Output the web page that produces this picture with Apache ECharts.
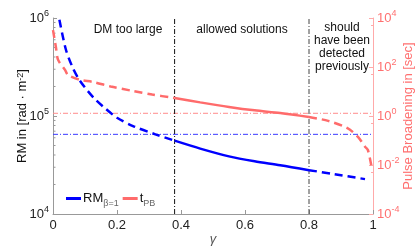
<!DOCTYPE html>
<html><head><meta charset="utf-8">
<script src="https://cdn.jsdelivr.net/npm/echarts@6/dist/echarts.min.js"></script>
<style>html,body{margin:0;padding:0;background:#fff}#c{width:415px;height:246px}</style>
</head><body><div id="c"></div>
<script>
// ---- data ----
const xTicks = [0, 0.2, 0.4, 0.6, 0.8, 1];
const leftTicks = [1e4, 1e5, 1e6];
const rightTicks = [1e-4, 1e-2, 1e0, 1e2, 1e4];
const leftMinor = [2e4,3e4,4e4,5e4,6e4,7e4,8e4,9e4,2e5,3e5,4e5,5e5,6e5,7e5,8e5,9e5];

// RM (beta=1), left axis
const rmGammaA = [0.02, 0.04, 0.06, 0.08, 0.10, 0.13, 0.16, 0.20, 0.25, 0.32, 0.38];
const rmValA   = [9.6e5, 4.8e5, 3.2e5, 2.4e5, 1.95e5, 1.5e5, 1.22e5, 9.6e4, 7.9e4, 6.5e4, 5.6e4];
const rmGammaB = [0.38, 0.46, 0.55, 0.63, 0.71, 0.80];
const rmValB   = [5.6e4, 4.65e4, 3.87e4, 3.45e4, 3.15e4, 2.8e4];
const rmGammaC = [0.80, 0.88, 0.975];
const rmValC   = [2.8e4, 2.55e4, 2.27e4];

// t_PB, right axis (sec)
const tGammaA = [0, 0.009, 0.016, 0.0375, 0.047, 0.084, 0.125, 0.18, 0.25, 0.31, 0.38];
const tValA   = [3200, 660, 195, 76, 47, 30, 24.5, 16, 10.5, 7.5, 5.4];
const tGammaB = [0.38, 0.46, 0.55, 0.63, 0.71, 0.80];
const tValB   = [5.4, 3.6, 2.35, 1.7, 1.32, 0.91];
const tGammaC = [0.80, 0.86, 0.92, 0.953, 0.975, 0.984, 0.995];
const tValC   = [0.91, 0.63, 0.32, 0.14, 0.056, 0.041, 0.009];

const vLines = [0.38, 0.8];
const rmLimit = 6.5e4;
const tLimit = 1.29;

const regionTexts = ['DM too large', 'allowed solutions', 'should\nhave been\ndetected\npreviously'];

// ---- build ----
const pairs = (xs, ys) => xs.map((x, i) => [x, ys[i]]);
const BLUE = '#0000ff', RED = '#ff6b6b', RED_AX = '#ffaaaa', RED_TXT = '#ff7070';
const FONT = 'Liberation Sans';

function supLabel(v) {
  const e = Math.round(Math.log10(v));
  return '{b|10}{s|' + e + '}';
}
const richLeft = {
  b: {fontSize: 13, fontFamily: FONT, color: '#222', lineHeight: 18},
  s: {fontSize: 9, fontFamily: FONT, color: '#222', verticalAlign: 'top', lineHeight: 9}
};
const richRight = {
  b: {fontSize: 13, fontFamily: FONT, color: RED_TXT, lineHeight: 18},
  s: {fontSize: 9, fontFamily: FONT, color: RED_TXT, verticalAlign: 'top', lineHeight: 9}
};

const chart = echarts.init(document.getElementById('c'), null, {renderer: 'canvas'});
const lineSeries = (name, data, color, dashed, yIdx, width, z) => ({
  name, type: 'line', data, yAxisIndex: yIdx, xAxisIndex: 0,
  showSymbol: false, symbol: 'none', smooth: dashed === null ? false : 0.3, clip: true, silent: true,
  itemStyle: {color},
  lineStyle: {color, width: width || 2.5, type: dashed === null ? [5, 2, 1, 2] : (dashed ? [8, 5] : 'solid')},
  z: z || 5
});

const option = {
  animation: false,
  textStyle: {fontFamily: FONT},
  grid: {left: 53, right: 42, top: 18, bottom: 32, containLabel: false, outerBoundsMode: 'none'},
  legend: {
    data: ['RM', 'tPB'], left: 66, top: 192, padding: 0, icon: 'rect', itemWidth: 15, itemHeight: 3,
    itemGap: 4, selectedMode: false,
    formatter: n => n === 'RM' ? '{b|RM}{s|β=1}' : '{b|t}{s|PB}',
    textStyle: {
      padding: [0, 0, 0, -3],
      rich: {
        b: {fontSize: 13, fontFamily: FONT, color: '#111', lineHeight: 20},
        s: {fontSize: 9, fontFamily: FONT, color: '#666', verticalAlign: 'bottom', lineHeight: 9}
      }
    }
  },
  xAxis: {
    type: 'value', min: 0, max: 1, interval: 0.2,
    name: 'γ', nameLocation: 'middle', nameGap: 19, nameMoveOverlap: false,
    nameTextStyle: {fontSize: 13, fontStyle: 'italic', fontFamily: FONT, color: '#555'},
    axisLine: {lineStyle: {color: '#999', width: 1}},
    axisTick: {inside: true, length: 4, lineStyle: {color: '#999'}},
    axisLabel: {fontSize: 13, color: '#222', margin: 5, fontFamily: FONT,
      formatter: v => xTicks.includes(Math.round(v * 10) / 10) ? String(Math.round(v * 10) / 10) : ''},
    splitLine: {show: false}
  },
  yAxis: [
    {
      type: 'log', logBase: 10, min: leftTicks[0], max: leftTicks[leftTicks.length - 1], interval: 1,
      position: 'left',
      name: 'RM in [rad · m{s|-2}]', nameLocation: 'middle', nameGap: 24, nameRotate: 90, nameMoveOverlap: false,
      nameTextStyle: {fontSize: 13, fontFamily: FONT, color: '#111',
        rich: {s: {fontSize: 9, fontFamily: FONT, color: '#111', verticalAlign: 'top', lineHeight: 9}}},
      axisLine: {show: true, lineStyle: {color: '#999', width: 1}},
      axisTick: {show: true, inside: true, length: 4, lineStyle: {color: '#999'}},
      axisLabel: {formatter: supLabel, rich: richLeft, margin: 4},
      splitLine: {show: false}
    },
    {
      type: 'log', logBase: 10, min: rightTicks[0], max: rightTicks[rightTicks.length - 1], interval: 2,
      position: 'right',
      name: 'Pulse Broadening in [sec]', nameLocation: 'middle', nameGap: 29, nameRotate: 90, nameMoveOverlap: false,
      nameTextStyle: {fontSize: 13, fontFamily: FONT, color: RED_TXT},
      axisLine: {show: true, lineStyle: {color: RED_AX, width: 1}},
      axisTick: {show: true, inside: true, length: 4, lineStyle: {color: RED_AX}},
      minorTick: {show: true, splitNumber: 2, length: 2, lineStyle: {color: RED_AX}},
      axisLabel: {formatter: supLabel, rich: richRight, margin: 4},
      splitLine: {show: false}
    }
  ],
  series: [
    lineSeries('RMa', pairs(rmGammaA, rmValA), BLUE, true, 0),
    lineSeries('RM', pairs(rmGammaB, rmValB), BLUE, false, 0),
    lineSeries('RMc', pairs(rmGammaC, rmValC), BLUE, true, 0),
    lineSeries('tPBa', pairs(tGammaA, tValA), RED, true, 1),
    lineSeries('tPB', pairs(tGammaB, tValB), RED, false, 1),
    lineSeries('tPBc', pairs(tGammaC, tValC), RED, true, 1),
    lineSeries('rmLimit', [[0, rmLimit], [1, rmLimit]], '#3a3aff', null, 0, 1, 2),
    lineSeries('tLimit', [[0, tLimit], [1, tLimit]], '#ff8c8c', null, 1, 1, 2),
    lineSeries('v1', [[vLines[0], leftTicks[0]], [vLines[0], leftTicks[2]]], '#111', null, 0, 1, 3),
    lineSeries('v2', [[vLines[1], leftTicks[0]], [vLines[1], leftTicks[2]]], '#444', null, 0, 1, 3),
    {
      type: 'custom', yAxisIndex: 0, silent: true, z: 3,
      data: leftMinor.map(v => [0, v]),
      renderItem: (params, api) => {
        const p = api.coord([api.value(0), api.value(1)]);
        return {type: 'line', shape: {x1: p[0], y1: p[1], x2: p[0] + 2.5, y2: p[1]},
          style: {stroke: '#999', lineWidth: 1}};
      }
    }
  ],
  graphic: [
    {type: 'text', x: 128, y: 24, style: {text: regionTexts[0], fontSize: 12, fontFamily: FONT, fill: '#111', align: 'center'}},
    {type: 'text', x: 242, y: 24, style: {text: regionTexts[1], fontSize: 12, fontFamily: FONT, fill: '#111', align: 'center'}},
    {type: 'text', x: 342, y: 21, style: {text: regionTexts[2], fontSize: 12, fontFamily: FONT, fill: '#111', align: 'center', lineHeight: 13}}
  ]
};
chart.setOption(option);
</script></body></html>
